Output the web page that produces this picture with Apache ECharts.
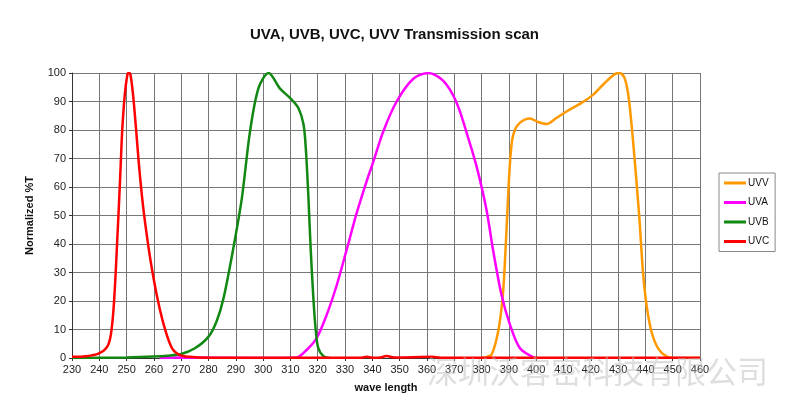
<!DOCTYPE html>
<html>
<head>
<meta charset="utf-8">
<script src="https://cdn.jsdelivr.net/npm/echarts@6/dist/echarts.min.js"></script>
<style>html,body{margin:0;padding:0;background:#fff;}#c{width:789px;height:398px;}</style>
</head>
<body>
<div id="c"></div>
<script>
const titleText = 'UVA, UVB, UVC, UVV Transmission scan';
const xTicks = [230,240,250,260,270,280,290,300,310,320,330,340,350,360,370,380,390,400,410,420,430,440,450,460];
const yTicks = [0,10,20,30,40,50,60,70,80,90,100];
const seriesNames = ['UVV','UVA','UVB','UVC'];
const watermark = '深圳沃客密科技有限公司';

const uvv = [[380,0],[382,0.4],[383.7,1.2],[386.1,9.4],[387.7,21],[388.5,32.7],[389.4,50.3],[390.3,67],[391.2,76.5],[392.4,80.5],[394,82.5],[396,83.7],[397.7,84],[400.7,82.8],[403.8,82.1],[407.4,84.2],[411.1,86.5],[416.6,89.5],[420.9,92.4],[425.1,96.5],[428.8,99.6],[430.6,100],[432.4,98.2],[433.9,91.2],[435.7,73.7],[437.7,50.3],[439.1,30.4],[440.4,18.7],[442.2,9.4],[444.6,3.5],[447.7,0.6],[451.3,0],[460,0]];
const uva = [[262,0],[270,0.2],[300,0],[312.3,0.2],[316,2.9],[319.6,7],[323.3,15.2],[327,25.7],[330.6,38],[334.3,51],[337.9,62],[340.4,69],[344,79.5],[348.9,90],[355,98],[360.5,100],[366,97.2],[370.9,89.5],[375.5,76],[378.5,66],[381.8,52],[384.3,37.4],[387.3,22.2],[390.4,11.7],[394,3.5],[398.9,0.2],[400,0]];
const uvb = [[230,0],[250,0.2],[260,0.5],[265,0.8],[270,1.4],[275,3.4],[280,7.5],[283,13],[285.5,21],[289.1,38.6],[292.2,56],[295.2,79.5],[298.3,94.7],[302,100],[306.2,94.5],[309.9,91.2],[312.9,87.7],[314.8,81.9],[315.7,72.5],[316.6,56],[317.4,38.6],[318.4,21],[319.3,9.4],[320.2,3.5],[322.1,0.6],[324.5,0]];
const uvc = [[230,0.4],[235,0.6],[239.7,1.5],[242.8,3.8],[244.2,8],[245.2,17],[246,30],[246.6,42],[247.2,54],[247.8,67],[248.4,80],[249.3,92],[250.3,99.5],[250.8,100],[251.4,99.5],[252.4,92],[253.4,81],[254.5,68],[255.6,57],[256.7,48],[258,39],[259.5,30],[261.5,20],[263.8,11],[266.6,3.5],[269.6,1],[273,0.4],[280,0.1],[300,0.1],[336,0.1],[338,0.4],[340,0.1],[343,0.2],[345.2,0.7],[348,0.2],[362,0.4],[365,0.1],[400,0.1],[460,0.1]];

const colors = ['#FF9900','#FF00FF','#118811','#FF0000'];
const dataSets = [uvv, uva, uvb, uvc];

const chart = echarts.init(document.getElementById('c'), null, {renderer:'canvas'});
const font = 'Liberation Sans, Arial, sans-serif';
chart.setOption({
  animation: false,
  backgroundColor: '#fff',
  title: {
    text: titleText, left: 'center', top: 22, itemGap: 0,
    textStyle: {fontFamily: font, fontSize: 15, fontWeight: 'bold', color: '#111'}
  },
  grid: {left: 72, right: 89, top: 73, bottom: 40, containLabel: false},
  legend: {
    orient: 'vertical', left: 719, top: 173,
    data: seriesNames,
    icon: 'rect', itemWidth: 22, itemHeight: 3, itemGap: 7.5,
    padding: [4, 6, 4, 5],
    borderColor: '#888', borderWidth: 1,
    textStyle: {fontFamily: font, fontSize: 10, color: '#111', padding: [0,0,0,-3], lineHeight: 12}
  },
  xAxis: {
    type: 'value', min: xTicks[0], max: xTicks[xTicks.length-1], interval: 10,
    name: 'wave length', nameLocation: 'middle', nameGap: 24,
    nameTextStyle: {fontFamily: font, fontSize: 11, fontWeight: 'bold', color: '#111'},
    axisLine: {show: true, lineStyle: {color: '#333'}},
    axisTick: {show: true, length: 3, lineStyle: {color: '#333'}},
    axisLabel: {fontFamily: font, fontSize: 11, color: '#222', margin: 6},
    splitLine: {show: true, lineStyle: {color: '#777', width: 1}}
  },
  yAxis: {
    type: 'value', min: yTicks[0], max: yTicks[yTicks.length-1], interval: 10,
    name: 'Normalized %T', nameLocation: 'middle', nameGap: 37, nameRotate: 90,
    nameTextStyle: {fontFamily: font, fontSize: 11, fontWeight: 'bold', color: '#111'},
    axisLine: {show: true, lineStyle: {color: '#333'}},
    axisTick: {show: true, length: 3, lineStyle: {color: '#333'}},
    axisLabel: {fontFamily: font, fontSize: 11, color: '#222', margin: 6},
    splitLine: {show: true, lineStyle: {color: '#777', width: 1}}
  },
  series: seriesNames.map((n, i) => ({
    name: n, type: 'line', data: dataSets[i], showSymbol: false, symbol: 'none',
    smooth: 0.3, clip: true,
    lineStyle: {color: colors[i], width: 2.5},
    itemStyle: {color: colors[i]}
  })),
  graphic: [{
    type: 'text', left: 427, top: 356, z: 100, silent: true,
    style: {text: watermark, fontFamily: 'Noto Sans CJK SC', fontSize: 31, fill: 'rgba(190,190,190,0.5)'}
  }]
});
</script>
</body>
</html>
